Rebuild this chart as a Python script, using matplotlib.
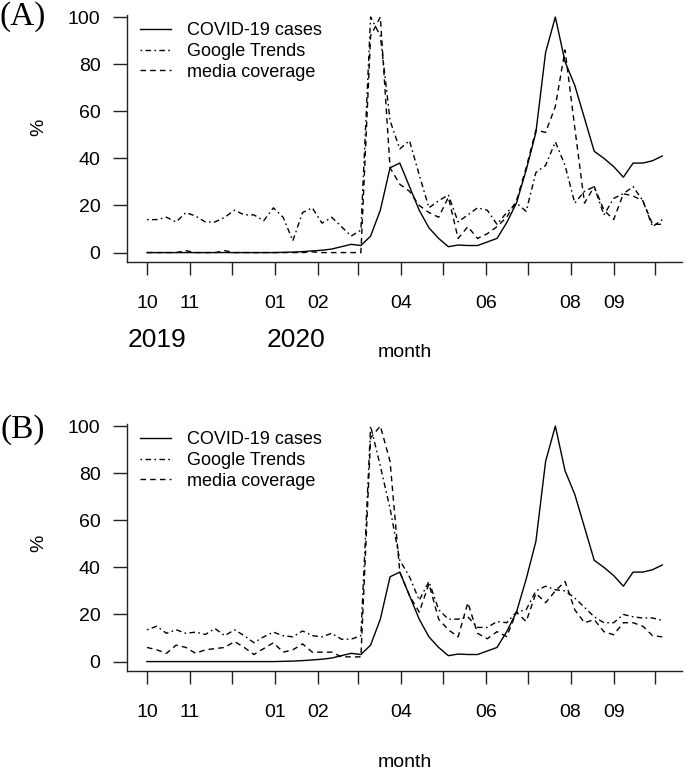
import matplotlib
matplotlib.use("Agg")
import matplotlib.pyplot as plt
import matplotlib.dates as mdates
import matplotlib.transforms as mtransforms
import numpy as np
import datetime as dt

# ---------------- data ----------------
start = dt.date(2019, 10, 1)
weeks = [start + dt.timedelta(days=7 * i) for i in range(54)]

cases = [0, 0, 0, 0, 0, 0, 0, 0, 0, 0, 0, 0, 0, 0, 0.1, 0.2, 0.4, 0.7, 1.0, 1.5,
         2.5, 3.5, 3.0, 7, 18, 36, 38, 28, 18, 10.5, 6, 2.5, 3.2, 3.0, 3.0, 4.5,
         6, 12.7, 21, 35, 51, 85, 100, 81, 71, 57, 43, 40, 36.5, 32, 38, 38, 39, 41]

google_A = [14, 14, 15, 13, 17, 15.5, 13, 13, 15, 18, 16, 16, 13.5, 19, 15, 5, 17, 19,
            12.5, 15, 11, 7, 9.5, 100, 92, 56, 44, 47.5, 33, 19, 22, 24.5, 13, 16, 19,
            18, 12, 17, 21, 17.5, 34, 37, 47, 37, 21, 26, 28, 16, 23, 25, 28, 22, 11, 14]

media_A = [0, 0, 0, 0, 0.8, 0, 0, 0, 0.8, 0, 0, 0, 0, 0, 0, 0, 0, 0.3, 0, 0, 0, 0, 0,
           92, 100, 36, 29, 26, 20, 17, 15, 23.5, 6, 11, 6, 8, 11, 15, 22, 36, 52, 51,
           62, 86, 53, 21, 28, 18, 14, 25, 24, 22, 12, 12]

google_B = [13.5, 15, 12, 13.5, 12, 12.5, 11.5, 14, 11, 13.5, 11, 8, 10.5, 12.5, 11,
            10.5, 13, 11, 10.5, 12, 9.5, 9.5, 11, 100, 83, 65, 43, 36, 26, 34, 22, 18,
            18, 19, 14.5, 14.5, 17, 16.5, 21, 22, 30, 32, 30.5, 30, 27, 23, 19, 16.5,
            16.5, 20, 19, 18.5, 18.5, 17.5]

media_B = [6, 5, 3.5, 7, 6, 3.5, 5, 5.5, 6, 8.5, 6, 3, 5.5, 8, 4, 5, 7.5, 4, 4, 4, 2,
           2, 2, 95, 100, 85, 38, 28, 21, 33, 18, 13.5, 10.5, 25, 12, 9.7, 12.7, 10.6,
           21, 17, 29, 25, 30, 34, 22, 16.5, 17.8, 12.7, 11.4, 16.5, 16.5, 15, 11, 10.5]

month_ticks = [dt.date(2019, m, 1) for m in (10, 11, 12)] + \
              [dt.date(2020, m, 1) for m in range(1, 11)]
month_labels = ["10", "11", "", "01", "02", "", "04", "", "06", "", "08", "09", ""]
series_labels = ["COVID-19 cases", "Google Trends", "media coverage"]
yticks = [0, 20, 40, 60, 80, 100]

# ---------------- style ----------------
plt.rcParams['font.family'] = ['Liberation Sans', 'DejaVu Sans']
W, H = 685, 770
fig = plt.figure(figsize=(W / 100, H / 100), dpi=100)

def px_axes(left, top, right, bottom):
    return fig.add_axes([left / W, 1 - bottom / H, (right - left) / W, (bottom - top) / H])

axA = px_axes(127, 7.6, 682, 262)
axB = px_axes(127, 416.6, 682, 671)

solid = dict(color='black', lw=1.0, linestyle='-')
dashdot = dict(color='black', lw=1.0, linestyle=(0, (1.2, 2.4, 4.0, 2.4)))
dashed = dict(color='black', lw=1.0, linestyle=(0, (4.0, 3.0)))

x0 = mdates.date2num(start)
for ax, g, m, tag, ty in ((axA, google_A, media_A, "(A)", 17), (axB, google_B, media_B, "(B)", 430)):
    l1, = ax.plot(weeks, cases, **solid)
    l2, = ax.plot(weeks, g, **dashdot)
    l3, = ax.plot(weeks, m, **dashed)
    ax.set_ylim(-4, 104)
    ax.set_xlim(x0 - 14.4, x0 + 385.2)
    ax.set_yticks(yticks)
    ax.set_xticks(month_ticks)
    ax.set_xticklabels(month_labels)
    for s in ('top', 'right'):
        ax.spines[s].set_visible(False)
    for s in ('left', 'bottom'):
        ax.spines[s].set_linewidth(1.0)
        ax.spines[s].set_color('#222222')
    ax.spines['left'].set_bounds(-4, 101)
    ax.tick_params(axis='both', labelsize=14, color='#222222', width=1.0, direction='out')
    ax.tick_params(axis='x', length=9, pad=15)
    ax.tick_params(axis='y', length=10, pad=9)
    ax.set_ylabel('%', fontsize=14)
    ax.set_xlabel('month', fontsize=14)
    leg = ax.legend([l1, l2, l3], series_labels, loc='upper left',
                    bbox_to_anchor=(0.024, 0.942), frameon=False, fontsize=13,
                    handlelength=1.7, handletextpad=0.9, labelspacing=0.2,
                    borderpad=0, borderaxespad=0)
    fig.text(23 / W, 1 - ty / H, tag, fontsize=24, family=['Liberation Serif', 'DejaVu Serif'],
             ha='center', va='center')

# label positions
axA.yaxis.set_label_coords((47 - 127) / 555, (262 - 127) / 254.4)
axB.yaxis.set_label_coords((47 - 127) / 555, (671 - 543) / 254.4)
axA.xaxis.set_label_coords(0.5, (262 - 344) / 254.4)
axB.xaxis.set_label_coords(0.5, (671 - 754) / 254.4)

# year labels (panel A)
trans = mtransforms.blended_transform_factory(axA.transData, axA.transAxes)
yy = (262 - 340) / 254.4
for d, yr in ((7.2, "2019"), (107.0, "2020")):
    axA.text(x0 + d, yy, yr, transform=trans, ha='center', va='center', fontsize=19,
             family=['Liberation Sans', 'DejaVu Sans'], clip_on=False)

fig.savefig('out.png', dpi=100)
